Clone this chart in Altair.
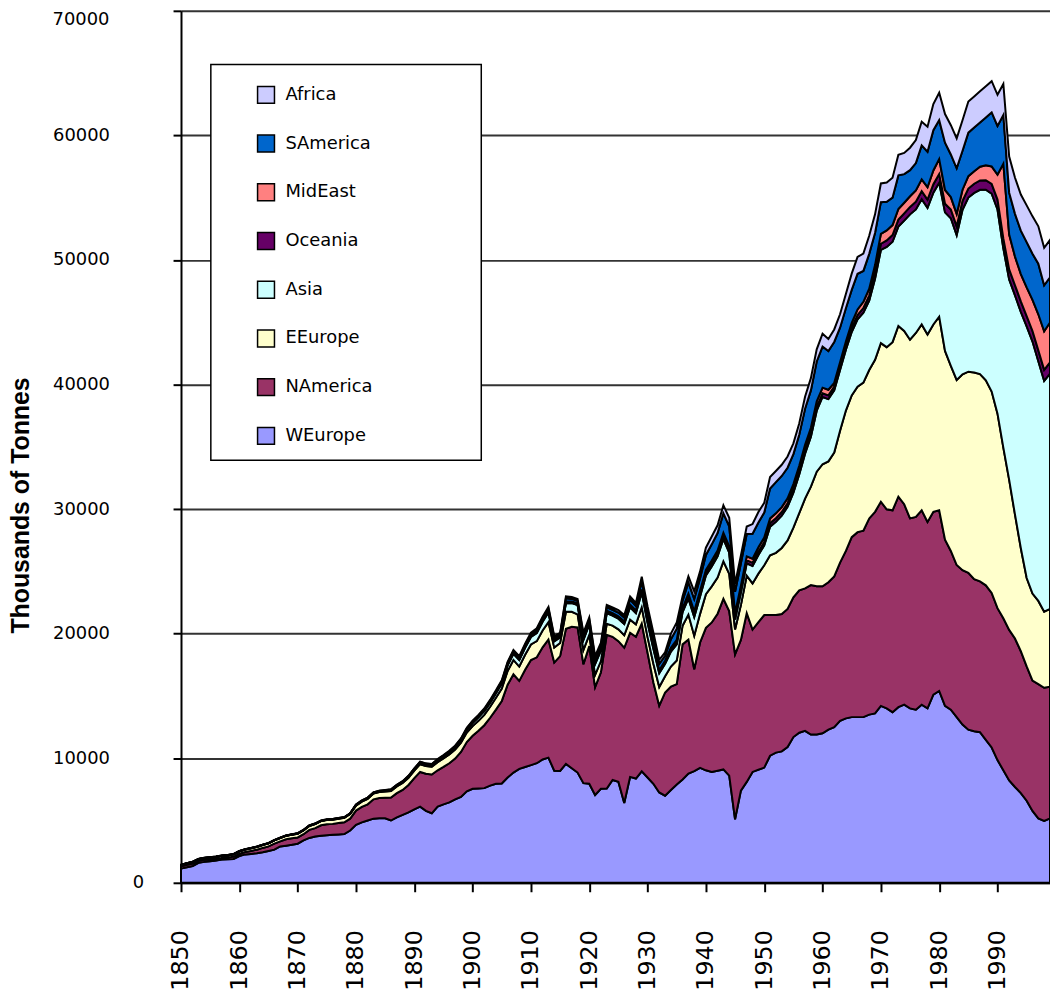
import altair as alt
import pandas as pd

YEARS = list(range(1850, 2000))

WEUROPE = [
    1140, 1250, 1350, 1600, 1680, 1730, 1780, 1860, 1880, 1910,
    2150, 2280, 2320, 2370, 2450, 2550, 2660, 2920, 2980, 3050,
    3140, 3400, 3600, 3720, 3780, 3820, 3860, 3880, 3910, 4200,
    4650, 4850, 5000, 5150, 5180, 5180, 5000, 5250, 5450, 5650,
    5900, 6110, 5770, 5580, 6110, 6300, 6450, 6700, 6900, 7350,
    7550, 7570, 7600, 7800, 7950, 7970, 8450, 8850, 9150, 9300,
    9450, 9600, 9900, 10050, 9000, 8980, 9550, 9200, 8850, 8000,
    7950, 7050, 7550, 7570, 8250, 8100, 6400, 8500, 8370, 8950,
    8450, 7950, 7250, 6990, 7450, 7890, 8290, 8770, 8960, 9220,
    9030, 8900, 9000, 9100, 8600, 5100, 7400, 8100, 8900, 9080,
    9250, 10200, 10450, 10550, 10900, 11700, 12050, 12200, 11900, 11900,
    12000, 12300, 12500, 13000, 13200, 13300, 13300, 13300, 13500, 13600,
    14200, 14000, 13700, 14100, 14300, 14000, 13900, 14300, 14000, 15100,
    15400, 14200, 13900, 13300, 12700, 12290, 12170, 12090, 11470, 10860,
    9850, 9030, 8220, 7690, 7200, 6590, 5770, 5170, 4970, 5170,
]

NAMERICA = [
    180, 190, 190, 160, 160, 150, 150, 140, 150, 190,
    180, 190, 240, 290, 350, 370, 490, 410, 520, 530,
    500, 500, 650, 670, 840, 880, 870, 920, 950, 950,
    1150, 1250, 1300, 1550, 1620, 1650, 1850, 1950, 2000, 2200,
    2500, 2790, 2980, 3110, 2920, 3000, 3150, 3270, 3600, 3950,
    4250, 4630, 5050, 5450, 5950, 6630, 7450, 7890, 7060, 7800,
    8430, 8500, 9000, 9480, 8680, 9220, 10850, 11350, 11650, 9540,
    11050, 8650, 9350, 12330, 11500, 11300, 12470, 11570, 11380, 11860,
    10020, 8130, 6970, 8290, 8310, 8060, 10850, 10760, 8180, 10070,
    11440, 12000, 12600, 13700, 13210, 13240, 12100, 13550, 11430, 11840,
    12240, 11290, 11040, 11030, 11080, 11210, 11420, 11440, 12000, 11900,
    11800, 11830, 12100, 12700, 13440, 14450, 14850, 14970, 15750, 16180,
    16390, 15980, 16200, 16900, 16090, 15250, 15470, 15600, 14970, 14680,
    14500, 13340, 12740, 12210, 12400, 12600, 12200, 12110, 12410, 12410,
    12200, 12200, 12080, 11920, 11390, 10780, 10460, 10780, 10690, 10570,
]

EEUROPE = [
    100, 110, 120, 130, 140, 150, 150, 160, 170, 180,
    190, 200, 210, 220, 230, 240, 250, 260, 270, 280,
    290, 300, 310, 320, 330, 340, 340, 350, 360, 380,
    400, 420, 440, 460, 480, 500, 520, 540, 560, 580,
    600, 620, 620, 620, 650, 680, 700, 720, 740, 760,
    780, 800, 830, 880, 950, 1000, 1100, 1150, 1150, 1200,
    1250, 1300, 1350, 1400, 1200, 1050, 1350, 1200, 1050, 1150,
    900, 1000, 900, 900, 900, 950, 1000, 1050, 1000, 1300,
    1250, 1500, 1500, 1300, 1600, 1900, 1500, 2000, 2700, 2300,
    2700, 2900, 2900, 3000, 3000, 2000, 2800, 3000, 3700, 3900,
    4000, 4800, 5000, 5300, 5500, 5600, 6200, 7200, 7900, 9200,
    9800, 9700, 9940, 10590, 11270, 11380, 11670, 11880, 11910, 12200,
    12730, 13020, 13500, 13700, 13910, 14350, 14770, 14920, 15040, 15040,
    15540, 15160, 14860, 14860, 15720, 16140, 16590, 16640, 16460, 16170,
    15610, 13700, 12040, 9940, 8270, 7100, 6990, 6680, 6110, 6240,
]

ASIA = [
    10, 10, 10, 10, 10, 10, 10, 10, 10, 10,
    10, 10, 10, 10, 10, 10, 10, 10, 10, 10,
    20, 20, 20, 20, 20, 20, 20, 20, 20, 20,
    30, 30, 40, 40, 50, 50, 60, 60, 70, 80,
    90, 100, 110, 120, 130, 150, 170, 190, 210, 230,
    250, 280, 300, 330, 360, 400, 450, 500, 520, 560,
    600, 650, 700, 780, 500, 450, 700, 700, 750, 800,
    850, 850, 850, 850, 800, 850, 900, 1000, 900, 1200,
    1150, 1200, 1100, 1000, 1200, 1300, 1100, 1300, 1500, 1400,
    1500, 1600, 1700, 1800, 1700, 800, 1000, 1000, 1400, 1500,
    1600, 2300, 2500, 2600, 2700, 2800, 3100, 3600, 4000, 4900,
    5400, 5000, 5000, 4870, 4880, 5090, 5410, 5620, 5580, 6510,
    7480, 8050, 8060, 7980, 8860, 10060, 9920, 10060, 10170, 10580,
    10760, 11120, 11850, 11630, 13200, 13980, 14420, 14790, 15300, 15890,
    16390, 16000, 16100, 17600, 18980, 20190, 20230, 19240, 18530, 18900,
]

OCEANIA = [
    5, 5, 5, 5, 5, 5, 5, 5, 5, 5,
    5, 5, 5, 5, 5, 5, 5, 5, 5, 5,
    5, 5, 5, 5, 5, 5, 5, 5, 5, 5,
    15, 15, 15, 15, 15, 15, 15, 15, 15, 15,
    30, 30, 30, 30, 30, 30, 30, 30, 30, 30,
    50, 52, 55, 58, 60, 65, 70, 72, 75, 80,
    85, 90, 95, 100, 100, 100, 110, 110, 110, 110,
    120, 120, 120, 130, 130, 130, 130, 140, 140, 150,
    150, 150, 130, 130, 150, 170, 160, 180, 200, 200,
    200, 220, 230, 240, 240, 240, 250, 250, 260, 260,
    270, 280, 280, 290, 290, 300, 300, 300, 300, 300,
    300, 300, 300, 310, 320, 330, 350, 370, 400, 450,
    500, 520, 540, 560, 580, 600, 620, 640, 660, 680,
    700, 700, 700, 700, 720, 720, 740, 750, 760, 780,
    800, 800, 800, 820, 830, 840, 850, 870, 880, 900,
]

MIDEAST = [
    0, 0, 0, 0, 0, 0, 0, 0, 0, 0,
    0, 0, 0, 0, 0, 0, 0, 0, 0, 0,
    0, 0, 0, 0, 0, 0, 0, 0, 0, 0,
    0, 0, 0, 0, 0, 0, 0, 0, 0, 0,
    0, 0, 0, 0, 0, 0, 0, 0, 0, 0,
    5, 5, 5, 5, 8, 8, 10, 10, 12, 12,
    14, 15, 18, 20, 20, 20, 30, 30, 30, 40,
    40, 50, 50, 60, 60, 70, 70, 80, 80, 100,
    120, 120, 120, 120, 150, 180, 150, 200, 250, 250,
    250, 250, 250, 260, 270, 280, 300, 300, 330, 350,
    360, 380, 390, 390, 400, 400, 400, 420, 430, 450,
    450, 450, 300, 320, 350, 400, 450, 500, 550, 650,
    800, 800, 800, 850, 850, 850, 900, 950, 1000, 1100,
    1200, 1100, 1000, 1000, 900, 1000, 1000, 1100, 1200, 1400,
    2000, 6000, 2800, 2300, 2200, 2300, 2500, 2900, 3100, 3200,
]

SAMERICA = [
    10, 10, 10, 10, 10, 10, 10, 10, 10, 10,
    10, 10, 10, 10, 10, 10, 10, 10, 10, 10,
    20, 20, 20, 20, 20, 20, 20, 20, 20, 20,
    30, 32, 34, 36, 38, 40, 42, 44, 46, 48,
    50, 52, 54, 56, 58, 60, 63, 66, 70, 75,
    80, 85, 90, 95, 100, 110, 120, 130, 140, 150,
    160, 170, 185, 200, 180, 150, 250, 200, 200, 270,
    230, 300, 270, 280, 280, 300, 320, 400, 350, 650,
    650, 650, 500, 400, 700, 900, 600, 900, 1000, 1000,
    1200, 1300, 1400, 1550, 1600, 1700, 1800, 1800, 2000, 2000,
    2000, 2400, 2500, 2500, 2450, 2400, 2500, 2900, 3000, 3200,
    3300, 3100, 3280, 2770, 2660, 2650, 2860, 2480, 2800, 2570,
    2540, 2300, 2200, 2700, 2300, 2100, 2200, 2730, 2850, 3240,
    3120, 3790, 3420, 3660, 3130, 3490, 3510, 3560, 3840, 4340,
    3910, 3900, 3360, 3430, 3480, 3630, 3700, 4060, 3690, 3620,
]

AFRICA = [
    5, 5, 5, 5, 5, 5, 5, 5, 5, 5,
    5, 5, 5, 5, 5, 5, 5, 5, 5, 5,
    10, 10, 10, 10, 10, 10, 10, 10, 10, 10,
    15, 15, 15, 15, 15, 15, 15, 15, 15, 15,
    20, 22, 24, 26, 28, 30, 33, 36, 40, 45,
    50, 55, 60, 65, 70, 75, 80, 85, 90, 95,
    100, 105, 110, 120, 120, 100, 150, 150, 140, 160,
    160, 180, 180, 180, 180, 200, 210, 250, 240, 370,
    400, 370, 330, 270, 440, 500, 350, 490, 610, 560,
    580, 630, 620, 650, 680, 640, 630, 600, 780, 830,
    780, 920, 900, 900, 900, 870, 900, 960, 980, 970,
    1030, 970, 1000, 1080, 1150, 1300, 1350, 1400, 1450, 1500,
    1500, 1550, 1600, 1650, 1700, 1800, 1850, 1900, 2000, 2100,
    2200, 2300, 2350, 2400, 2450, 2500, 2500, 2500, 2500, 2500,
    2500, 2500, 2900, 2900, 2900, 2950, 3000, 3000, 3000, 3000,
]

# stacking order, bottom to top
STACK = ["WEurope", "NAmerica", "EEurope", "Asia", "Oceania", "MidEast", "SAmerica", "Africa"]
SERIES = {
    "WEurope": WEUROPE, "NAmerica": NAMERICA, "EEurope": EEUROPE, "Asia": ASIA,
    "Oceania": OCEANIA, "MidEast": MIDEAST, "SAmerica": SAMERICA, "Africa": AFRICA,
}
LEGEND_ORDER = ["Africa", "SAmerica", "MidEast", "Oceania", "Asia", "EEurope", "NAmerica", "WEurope"]
COLORS = ["#CCCCFF", "#0066CC", "#FF8080", "#660066", "#CCFFFF", "#FFFFCC", "#993366", "#9999FF"]

Y_TICKS = [0, 10000, 20000, 30000, 40000, 50000, 60000, 70000]
X_TICKS = [1850, 1860, 1870, 1880, 1890, 1900, 1910, 1920, 1930, 1940, 1950, 1960, 1970, 1980, 1990]

rows = []
for idx, name in enumerate(STACK):
    for yr, v in zip(YEARS, SERIES[name]):
        rows.append({"year": yr, "region": name, "value": v, "order": idx})
df = pd.DataFrame(rows)

W, H = 874, 877
FONT = "DejaVu Sans"

y_scale = alt.Scale(domain=[Y_TICKS[0], Y_TICKS[-1]], nice=False)
y_axis = alt.Axis(
    values=Y_TICKS, format="d",
    labelExpr="(datum.value == 0 || datum.value == 70000) ? '' : datum.label",
    labelFont=FONT, labelFontSize=18, labelColor="#000000", labelPadding=64,
    labelFlush=False,
    tickSize=8, tickWidth=2, tickColor="#000000",
    domainColor="#000000", domainWidth=2,
    grid=True, gridColor="#333333", gridWidth=2,
    title="Thousands of Tonnes", titleFont="Liberation Sans", titleFontSize=25,
    titleFontWeight="bold", titleColor="#000000", titleAngle=270,
    titleX=-153, titleY=497, titleAlign="center", titleBaseline="alphabetic",
)

x_axis = alt.Axis(
    values=X_TICKS, format="d", labelAngle=-90,
    labelFont=FONT, labelFontSize=24, labelColor="#000000", labelPadding=38,
    labelFlush=False, labelOverlap=False,
    tickSize=9, tickWidth=2, tickColor="#000000",
    domainColor="#000000", domainWidth=2, grid=False, title=None,
)

area = alt.Chart(df).mark_area(
    stroke="black", strokeWidth=2, opacity=1, interpolate="linear"
).encode(
    x=alt.X("year:Q", scale=alt.Scale(domain=[YEARS[0], YEARS[-1]], nice=False, zero=False), axis=x_axis),
    y=alt.Y("value:Q", stack="zero", scale=y_scale, axis=y_axis),
    color=alt.Color(
        "region:N",
        scale=alt.Scale(domain=LEGEND_ORDER, range=COLORS),
        legend=alt.Legend(
            orient="none", legendX=76, legendY=75, title=None,
            symbolType="square", symbolSize=289, symbolStrokeColor="black",
            symbolStrokeWidth=1.5, symbolOpacity=1,
            labelFont=FONT, labelFontSize=18, labelColor="#000000",
            labelOffset=10, rowPadding=26, padding=0,
        ),
    ),
    order=alt.Order("order:Q", sort="ascending"),
)

frame = alt.Chart(pd.DataFrame({"k": [0]})).mark_rect(
    fill="white", stroke="black", strokeWidth=1.5
).encode(
    x=alt.value(30), x2=alt.value(302), y=alt.value(54), y2=alt.value(452)
)

zero_lbl = alt.Chart(pd.DataFrame({"value": [Y_TICKS[0]], "label": ["0"]})).mark_text(
    align="right", baseline="middle", font=FONT, fontSize=18, color="#000000"
).encode(
    x=alt.value(-37), y=alt.Y("value:Q", scale=y_scale, axis=y_axis), text="label:N"
)

top_lbl = alt.Chart(pd.DataFrame({"value": [Y_TICKS[-1]], "label": ["70000"]})).mark_text(
    align="right", baseline="top", font=FONT, fontSize=18, color="#000000"
).encode(
    x=alt.value(-72), y=alt.Y("value:Q", scale=y_scale, axis=y_axis), text="label:N"
)

chart = alt.layer(area, frame, zero_lbl, top_lbl).properties(
    width=W, height=H,
    autosize=alt.AutoSizeParams(type="none"),
    padding={"left": 174, "top": 0, "right": 0, "bottom": 108},
).configure_view(strokeWidth=0).configure(background="white")

chart.save("out.html", embed_options={"renderer": "svg", "actions": False})
